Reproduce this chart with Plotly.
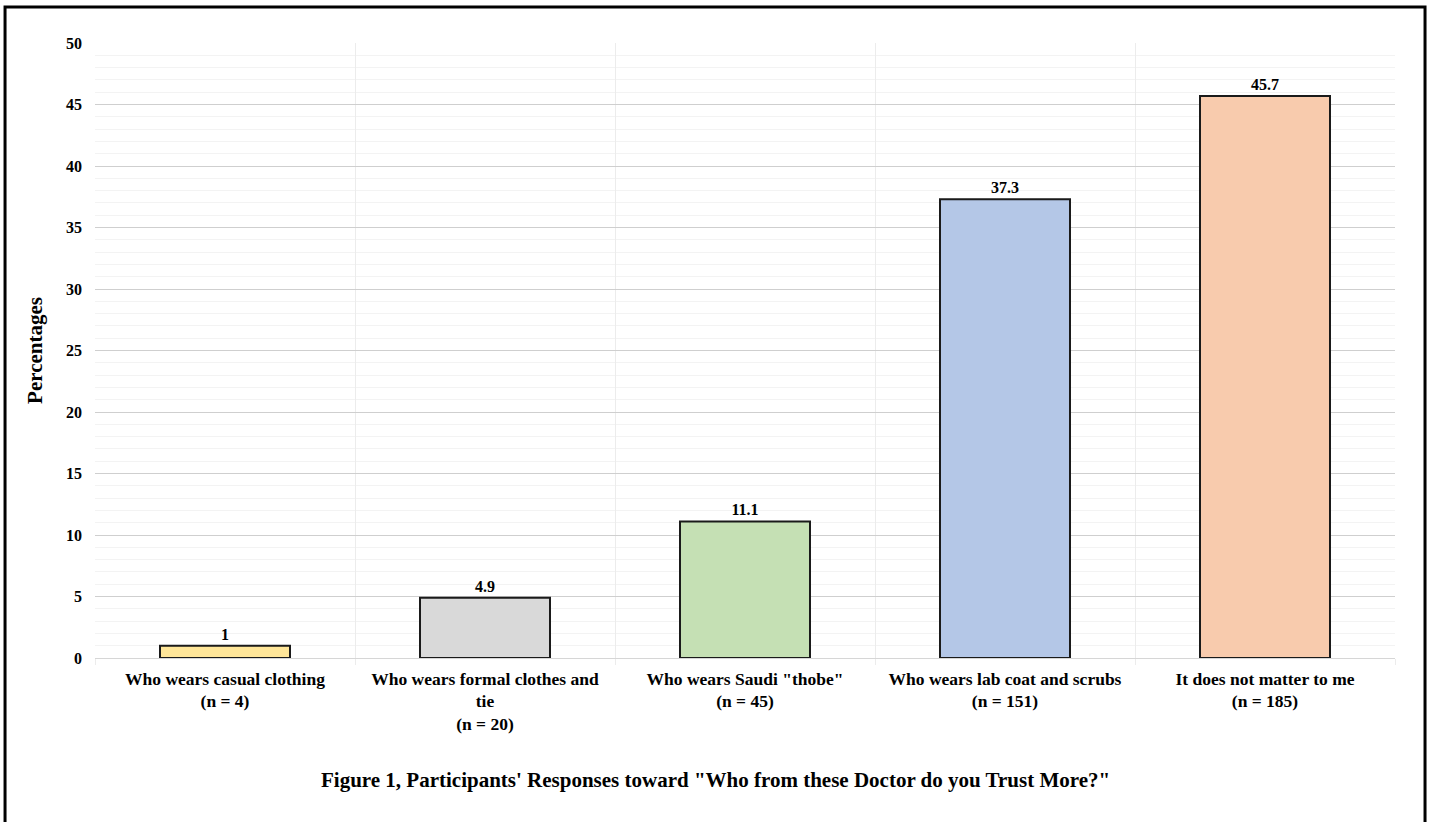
import plotly.graph_objects as go

# Survey responses: which doctor participants trust more
categories = [
    "Who wears casual clothing<br>(n = 4)",
    "Who wears formal clothes and<br>tie<br>(n = 20)",
    "Who wears Saudi \"thobe\"<br>(n = 45)",
    "Who wears lab coat and scrubs<br>(n = 151)",
    "It does not matter to me<br>(n = 185)",
]
percentages = [1, 4.9, 11.1, 37.3, 45.7]
bar_colors = ["#FFE699", "#D9D9D9", "#C5E0B4", "#B4C7E7", "#F8CBAD"]
y_ticks = [0, 5, 10, 15, 20, 25, 30, 35, 40, 45, 50]

FONT = "Liberation Serif, Times New Roman, serif"

fig = go.Figure(
    go.Bar(
        x=categories,
        y=percentages,
        width=0.5,
        marker=dict(color=bar_colors, line=dict(color="#1a1a1a", width=2)),
        text=[f"<b>{v:g}</b>" for v in percentages],
        textposition="outside",
        textfont=dict(family=FONT, size=16, color="black"),
        cliponaxis=False,
        hoverinfo="x+y",
    )
)

fig.update_layout(
    width=1429,
    height=822,
    paper_bgcolor="white",
    plot_bgcolor="white",
    margin=dict(l=95, r=34, t=43, b=164),
    showlegend=False,
    font=dict(family=FONT, color="black"),
    bargap=0.5,
)

fig.update_yaxes(
    range=[0, 50],
    tickvals=y_ticks,
    ticktext=[f"<b>{t}</b>" for t in y_ticks],
    tickfont=dict(family=FONT, size=16, color="black"),
    ticklabelstandoff=12,
    showgrid=True,
    gridcolor="#cfcfcf",
    gridwidth=1,
    zeroline=True,
    zerolinecolor="#d6d6d6",
    zerolinewidth=1,
    minor=dict(dtick=1, showgrid=True, gridcolor="#f3f3f3", gridwidth=1),
    title=dict(text="<b>Percentages</b>", font=dict(family=FONT, size=21, color="black"),
               standoff=17),
    showline=False,
)

fig.update_xaxes(
    tickson="boundaries",
    showgrid=True,
    gridcolor="#ececec",
    gridwidth=1,
    ticks="outside",
    ticklen=6,
    tickcolor="#ececec",
    tickvals=categories,
    ticktext=[f"<b>{c.replace('<br>', '</b><br><b>')}</b>" for c in categories],
    tickfont=dict(family=FONT, size=17.5, color="black"),
    ticklabelstandoff=8,
    showline=False,
)

# Caption below the chart
fig.add_annotation(
    text="<b>Figure 1, Participants' Responses toward \"Who from these Doctor do you Trust More?\"</b>",
    xref="paper", yref="paper",
    x=0.477, y=-0.198,
    xanchor="center", yanchor="middle",
    showarrow=False,
    font=dict(family=FONT, size=21, color="black"),
)

# Frame around the whole figure
fig.add_shape(
    type="rect",
    xref="paper", yref="paper",
    x0=-0.0692, x1=1.0231, y0=-0.40, y1=1.0585,
    line=dict(color="black", width=3),
    fillcolor="rgba(0,0,0,0)",
    layer="above",
)

fig.write_html("out.html")
